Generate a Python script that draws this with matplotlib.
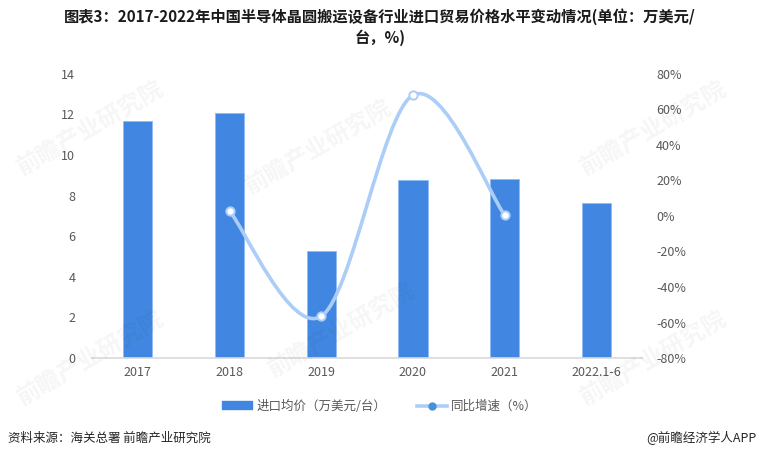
import numpy as np
import matplotlib
matplotlib.use("Agg")
import matplotlib.pyplot as plt
from matplotlib.path import Path
from matplotlib.patches import PathPatch, Patch
from matplotlib.lines import Line2D

plt.rcParams['font.family'] = ['Noto Sans CJK SC', 'DejaVu Sans']

# 数据
years = ["2017", "2018", "2019", "2020", "2021", "2022.1-6"]
price = [11.7, 12.05, 5.25, 8.77, 8.82, 7.62]          # 进口均价（万美元/台）
growth_years = ["2018", "2019", "2020", "2021"]
growth = [2.8, -56.5, 68.0, 0.5]                        # 同比增速（%）

bar_color = '#4187e1'
line_color = '#abcdf7'
tick_color = '#595959'

fig = plt.figure(figsize=(7.6, 4.59), dpi=100)
ax = fig.add_axes([0.121, 0.22, 0.724, 0.619])
ax2 = ax.twinx()

x = np.arange(len(years))
ax.bar(x, price, width=0.32, color=bar_color, edgecolor='#8fbcf2', linewidth=0.6, zorder=2)
ax.set_xlim(-0.5, len(years) - 0.5)
ax.set_ylim(0, 14)
ax.set_yticks(range(0, 15, 2))
ax.set_xticks(x)
ax.set_xticklabels(years)

# 平滑曲线（类似 Excel 平滑线）
gx = np.array([years.index(y) for y in growth_years], dtype=float)
gy = np.array(growth)
pts = np.column_stack([gx, gy])
verts = [tuple(pts[0])]
codes = [Path.MOVETO]
n = len(pts)
for i in range(n - 1):
    p_prev = pts[i - 1] if i > 0 else pts[i]
    p_next2 = pts[i + 2] if i + 2 < n else pts[i + 1]
    c1 = pts[i] + (pts[i + 1] - p_prev) / 6
    c2 = pts[i + 1] - (p_next2 - pts[i]) / 6
    verts += [tuple(c1), tuple(c2), tuple(pts[i + 1])]
    codes += [Path.CURVE4] * 3
ax2.add_patch(PathPatch(Path(verts, codes), facecolor='none', edgecolor=line_color,
                        linewidth=2.6, capstyle='round', zorder=3))
ax2.plot(gx, gy, linestyle='none', marker='o', markersize=6,
         markerfacecolor='white', markeredgecolor=line_color, markeredgewidth=1.4, zorder=4)
ax2.set_ylim(-80, 80)
ax2.set_yticks(range(-80, 81, 20))
ax2.set_yticklabels([f"{v}%" for v in range(-80, 81, 20)])

for a in (ax, ax2):
    for s in ['top', 'left', 'right', 'bottom']:
        a.spines[s].set_visible(False)
    a.tick_params(length=0, labelsize=9, colors=tick_color)
ax.spines['bottom'].set_visible(True)
ax.spines['bottom'].set_color('#d9d9d9')
ax.spines['bottom'].set_linewidth(1.2)
ax.tick_params(axis='y', pad=12)
ax.tick_params(axis='x', pad=6)
ax2.tick_params(axis='y', pad=10)

# 水印
for (wx, wy) in [(0.12, 0.72), (0.42, 0.68), (0.45, 0.28), (0.86, 0.72), (0.12, 0.22), (0.86, 0.22)]:
    fig.text(wx, wy, "前瞻产业研究院", fontsize=17, color='#000000', alpha=0.04,
             rotation=30, ha='center', va='center', fontweight='bold')

# 标题
fig.text(0.5, 0.963, "图表3：2017-2022年中国半导体晶圆搬运设备行业进口贸易价格水平变动情况(单位：万美元/",
         ha='center', va='center', fontsize=11, fontweight='bold', color='#1a1a1a')
fig.text(0.5, 0.918, "台，%)", ha='center', va='center', fontsize=11, fontweight='bold', color='#1a1a1a')

# 图例
handles = [Patch(facecolor=bar_color, edgecolor=bar_color),
           Line2D([0], [0], color=line_color, linewidth=2.6, marker='o', markersize=5,
                  markerfacecolor='#4a8ee0', markeredgecolor='#4a8ee0')]
fig.legend(handles, ["进口均价（万美元/台）", "同比增速（%）"], loc='center',
           bbox_to_anchor=(0.5, 0.115), ncol=2, frameon=False, fontsize=9,
           labelcolor=tick_color, handlelength=2.4, handleheight=0.6, columnspacing=2.5,
           handletextpad=0.3)

# 来源
fig.text(0.01, 0.045, "资料来源：海关总署 前瞻产业研究院", ha='left', va='center', fontsize=9, color='#262626')
fig.text(0.995, 0.045, "@前瞻经济学人APP", ha='right', va='center', fontsize=9, color='#262626')

fig.savefig("out.png", dpi=100)
